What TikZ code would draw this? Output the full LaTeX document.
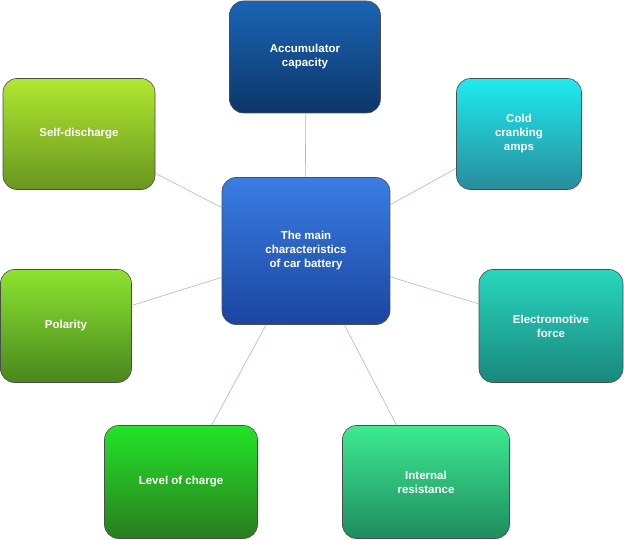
\documentclass[tikz,border=0pt]{standalone}
\usepackage{fontspec}
\setmainfont{Liberation Sans}
\begin{document}
\begin{tikzpicture}[x=1pt,y=-1pt,
  box/.style={draw=black!70, line width=0.6pt, rounded corners=14pt, align=center,
    text=white, font=\bfseries\fontsize{11.5}{14}\selectfont, inner sep=2pt},
  link/.style={draw=green!30!gray!60, line width=0.6pt}]
\useasboundingbox (0,0) rectangle (624,540);
\node[box, minimum width=168pt, minimum height=147pt, top color={rgb,255:red,58;green,125;blue,228}, bottom color={rgb,255:red,26;green,70;blue,160}] (c) at (306,251) {The main\\characteristics\\of car battery};
\node[box, minimum width=151pt, minimum height=112pt, top color={rgb,255:red,26;green,100;blue,180}, bottom color={rgb,255:red,12;green,55;blue,105}] (a) at (305,57) {Accumulator\\capacity};
\node[box, minimum width=125pt, minimum height=111pt, top color={rgb,255:red,30;green,235;blue,240}, bottom color={rgb,255:red,40;green,140;blue,155}] (b) at (519,134) {Cold\\cranking\\amps};
\node[box, minimum width=144pt, minimum height=113pt, top color={rgb,255:red,40;green,215;blue,190}, bottom color={rgb,255:red,25;green,135;blue,125}] (e) at (551,326) {Electromotive\\force};
\node[box, minimum width=167pt, minimum height=113pt, top color={rgb,255:red,60;green,235;blue,145}, bottom color={rgb,255:red,30;green,140;blue,95}] (i) at (426,482) {Internal\\resistance};
\node[box, minimum width=153pt, minimum height=113pt, top color={rgb,255:red,34;green,228;blue,40}, bottom color={rgb,255:red,42;green,125;blue,30}] (l) at (181,482) {Level of charge};
\node[box, minimum width=131pt, minimum height=113pt, top color={rgb,255:red,140;green,228;blue,48}, bottom color={rgb,255:red,72;green,135;blue,30}] (p) at (66,326) {Polarity};
\node[box, minimum width=152pt, minimum height=111pt, top color={rgb,255:red,176;green,232;blue,48}, bottom color={rgb,255:red,105;green,150;blue,30}] (s) at (79,134) {Self-discharge};
\begin{scope}[on background layer/.style={}]
\end{scope}
\draw[link] (c) -- (a);
\draw[link] (c) -- (b);
\draw[link] (c) -- (e);
\draw[link] (c) -- (i);
\draw[link] (c) -- (l);
\draw[link] (c) -- (p);
\draw[link] (c) -- (s);
\end{tikzpicture}
\end{document}
